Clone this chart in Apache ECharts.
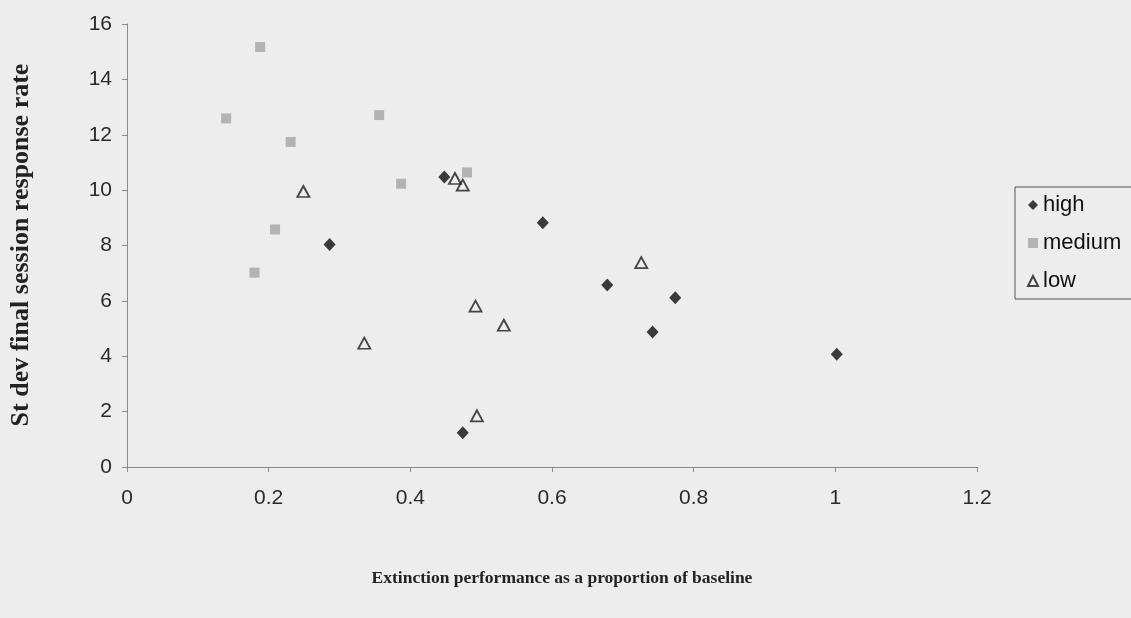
<!DOCTYPE html>
<html>
<head>
<meta charset="utf-8">
<script src="https://cdn.jsdelivr.net/npm/echarts@6/dist/echarts.min.js"></script>
<style>
html,body{margin:0;padding:0;background:#ededed;}
#chart{width:1131px;height:618px;}
</style>
</head>
<body>
<div id="chart"></div>
<script>
// Data: [proportion of baseline, st dev]
var highData = [
  [0.448, 10.47], [0.286, 8.04], [0.587, 8.82], [0.678, 6.57],
  [0.774, 6.11], [0.742, 4.88], [0.474, 1.24], [1.002, 4.07]
];
var mediumData = [
  [0.140, 12.59], [0.188, 15.17], [0.231, 11.74], [0.356, 12.71],
  [0.387, 10.23], [0.480, 10.64], [0.209, 8.58], [0.180, 7.02]
];
var lowData = [
  [0.249, 9.95], [0.463, 10.42], [0.474, 10.18], [0.726, 7.38],
  [0.492, 5.81], [0.532, 5.12], [0.335, 4.47], [0.494, 1.85]
];
var xTicks = {min: 0, max: 1.2, interval: 0.2};
var yTicks = {min: 0, max: 16, interval: 2};
var seriesNames = ['high', 'medium', 'low'];
var xTitle = 'Extinction performance as a proportion of baseline';
var yTitle = 'St dev final session response rate';

var chart = echarts.init(document.getElementById('chart'), null, {renderer: 'canvas'});
var axisLine = {show: true, lineStyle: {color: '#8a8a8a', width: 1}};
var labelFont = 'Liberation Sans, Arial, sans-serif';
var option = {
  backgroundColor: '#ededed',
  animation: false,
  grid: {left: 127, right: 154, top: 24, bottom: 151, containLabel: false},
  xAxis: {
    type: 'value', min: xTicks.min, max: xTicks.max, interval: xTicks.interval,
    axisLine: axisLine,
    axisTick: {show: true, length: 5, lineStyle: {color: '#8a8a8a'}},
    splitLine: {show: false},
    axisLabel: {color: '#2a2a2a', fontFamily: labelFont, fontSize: 21, margin: 21,
      formatter: function (v) { return String(Math.round(v * 10) / 10); }}
  },
  yAxis: {
    type: 'value', min: yTicks.min, max: yTicks.max, interval: yTicks.interval,
    axisLine: axisLine,
    axisTick: {show: true, length: 5, lineStyle: {color: '#8a8a8a'}},
    splitLine: {show: false},
    axisLabel: {color: '#2a2a2a', fontFamily: labelFont, fontSize: 21, margin: 15}
  },
  legend: {
    orient: 'vertical', left: 1015, top: 187,
    data: seriesNames,
    backgroundColor: '#ededed',
    borderColor: '#555', borderWidth: 1,
    padding: [7, 40, 7, 12],
    itemGap: 16, itemWidth: 10, itemHeight: 10,
    textStyle: {color: '#111', fontFamily: labelFont, fontSize: 22}
  },
  graphic: [
    {type: 'text', x: 562, y: 578,
      style: {text: xTitle, fill: '#222', font: 'bold 17.5px "Liberation Serif", "Times New Roman", serif',
        textAlign: 'center', textVerticalAlign: 'middle'}},
    {type: 'text', x: 21, y: 245, rotation: Math.PI / 2,
      style: {text: yTitle, fill: '#222', font: 'bold 26px "Liberation Serif", "Times New Roman", serif',
        textAlign: 'center', textVerticalAlign: 'middle'}}
  ],
  series: [
    {name: 'high', type: 'scatter', data: highData, symbol: 'diamond', symbolSize: [12, 13],
      itemStyle: {color: '#0d0d0d'}},
    {name: 'medium', type: 'scatter', data: mediumData, symbol: 'rect', symbolSize: 10,
      itemStyle: {color: '#a4a4a4'}},
    {name: 'low', type: 'scatter', data: lowData, symbol: 'triangle', symbolSize: [12, 11],
      itemStyle: {color: 'rgba(0,0,0,0)', borderColor: '#1a1a1a', borderWidth: 1.8}}
  ]
};
chart.setOption(option);
</script>
</body>
</html>
